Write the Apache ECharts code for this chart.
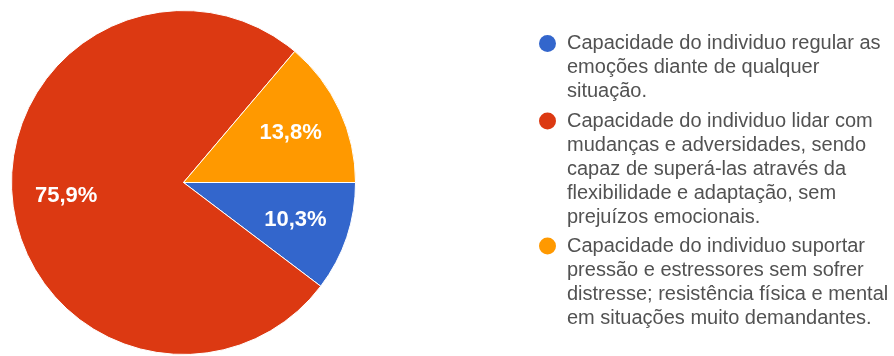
<!DOCTYPE html>
<html>
<head>
<meta charset="utf-8">
<script src="https://cdn.jsdelivr.net/npm/echarts@6/dist/echarts.min.js"></script>
<style>
  html, body { margin: 0; padding: 0; background: #ffffff; }
  #chart { width: 894px; height: 356px; }
</style>
</head>
<body>
<div id="chart"></div>
<script>
// Legend text, already broken into the lines it is shown on
const legendLines = [
  ['Capacidade do individuo regular as', 'emoções diante de qualquer', 'situação.'],
  ['Capacidade do individuo lidar com', 'mudanças e adversidades, sendo', 'capaz de superá-las através da', 'flexibilidade e adaptação, sem', 'prejuízos emocionais.'],
  ['Capacidade do individuo suportar', 'pressão e estressores sem sofrer', 'distresse; resistência física e mental', 'em situações muito demandantes.']
];
// Share of answers per option (%)
const shares = [10.3, 75.9, 13.8];
const sliceColors = ['#3366cc', '#dc3912', '#ff9900'];

const categories = legendLines.map(l => l.join(' '));
const pieData = categories.map((name, i) => ({ name: name, value: shares[i] }));

const chart = echarts.init(document.getElementById('chart'), null, { renderer: 'canvas' });

const FONT = '"Liberation Sans", Arial, sans-serif';
const LH = 24;                       // legend line height
const ICON = 17;                     // legend dot diameter
const iconCenters = [43.5, 121, 246];

// One legend block per option. Blank lines are put before the text so that
// the dot (centred on the text block) lines up with the first written line.
const legends = categories.map((name, i) => {
  const n = legendLines[i].length;
  return {
    data: [name],
    orient: 'vertical',
    left: 539,
    top: iconCenters[i] - (2 * n - 1) * LH / 2,
    padding: 0,
    icon: 'circle',
    itemWidth: 29,
    itemHeight: ICON,
    itemStyle: { borderWidth: 0 },
    selectedMode: false,
    formatter: nm => {
      const lines = legendLines[categories.indexOf(nm)];
      return '\n'.repeat(lines.length - 1) + lines.join('\n');
    },
    textStyle: {
      fontFamily: FONT,
      fontSize: 20,
      lineHeight: LH,
      color: '#525252'
    }
  };
});

chart.setOption({
  animation: false,
  color: sliceColors,
  legend: legends,
  series: [
    {
      type: 'pie',
      center: [183.5, 182.5],
      radius: [0, 172],
      startAngle: 0,
      clockwise: true,
      avoidLabelOverlap: false,
      label: { show: false },
      labelLine: { show: false },
      itemStyle: { borderColor: '#ffffff', borderWidth: 1 },
      emphasis: { disabled: true },
      data: pieData
    },
    {
      // percentage labels, placed at two thirds of the radius
      type: 'pie',
      silent: true,
      center: [183.5, 182.5],
      radius: [58, 172],
      startAngle: 0,
      clockwise: true,
      avoidLabelOverlap: false,
      itemStyle: { color: 'rgba(0,0,0,0)' },
      label: {
        show: true,
        position: 'inside',
        color: '#ffffff',
        fontFamily: FONT,
        fontSize: 22,
        fontWeight: 'bold',
        formatter: p => p.value.toFixed(1).replace('.', ',') + '%'
      },
      labelLine: { show: false },
      emphasis: { disabled: true },
      data: pieData
    }
  ]
});
</script>
</body>
</html>
